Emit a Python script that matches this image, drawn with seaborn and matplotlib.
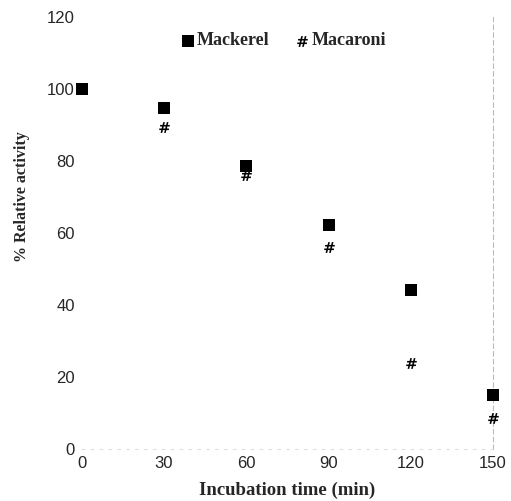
import pandas as pd
import seaborn as sns
import matplotlib.pyplot as plt

times = [0, 30, 60, 90, 120, 150]
mackerel = [100, 94.7, 78.5, 62.2, 44.2, 15.0]
macaroni = [100, 89.5, 76.0, 56.0, 24.0, 8.5]

df = pd.concat([
    pd.DataFrame({'time': times, 'activity': macaroni, 'sample': 'Macaroni'}),
    pd.DataFrame({'time': times, 'activity': mackerel, 'sample': 'Mackerel'}),
])

sns.set_style('white')
plt.rcParams['font.family'] = ['Liberation Sans', 'DejaVu Sans']

fig = plt.figure(figsize=(5.11, 5.01), dpi=100)
ax = fig.add_axes([0.160, 0.104, 0.805, 0.862])

sns.scatterplot(data=df[df['sample'] == 'Macaroni'], x='time', y='activity',
                marker='$\\mathbf{\\#}$', s=60, color='black', linewidth=0,
                ax=ax, clip_on=False, label='Macaroni', zorder=3)
sns.scatterplot(data=df[df['sample'] == 'Mackerel'], x='time', y='activity',
                marker='s', s=75, color='black', linewidth=0,
                ax=ax, clip_on=False, label='Mackerel', zorder=4)

ax.set(xlim=(0, 150), ylim=(0, 120),
       xticks=times, yticks=[0, 20, 40, 60, 80, 100, 120])
ax.tick_params(labelsize=12, length=0, pad=5)

for side in ('top', 'left'):
    ax.spines[side].set_visible(False)
ax.spines['right'].set(color='#bbbbbb', linestyle=(0, (4, 3)), linewidth=0.8)
ax.spines['bottom'].set(color='#dddddd', linestyle=(0, (2, 6)), linewidth=0.8)

ax.set_xlabel('Incubation time (min)',
              fontdict={'family': ['Liberation Serif'], 'weight': 'bold', 'size': 13.5})
ax.set_ylabel('% Relative activity',
              fontdict={'family': ['Liberation Serif'], 'weight': 'bold', 'size': 11.5})
ax.xaxis.set_label_coords(0.50, -0.075)
ax.yaxis.set_label_coords(-0.127, 0.585)

handles, labels = ax.get_legend_handles_labels()
order = [labels.index('Mackerel'), labels.index('Macaroni')]
ax.legend([handles[i] for i in order], [labels[i] for i in order],
          loc='center', bbox_to_anchor=(0.49, 0.945), ncol=2, frameon=False,
          prop={'family': ['Liberation Serif'], 'weight': 'bold', 'size': 13},
          handletextpad=0.1, columnspacing=1.4, handlelength=0.8)

fig.savefig('out.png', dpi=100)
